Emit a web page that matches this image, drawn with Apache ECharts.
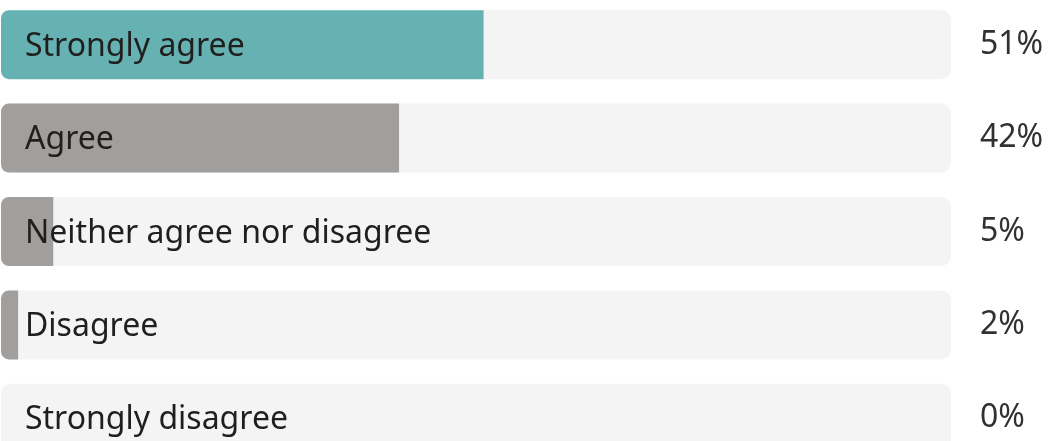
<!DOCTYPE html>
<html>
<head>
<meta charset="utf-8">
<script src="https://cdn.jsdelivr.net/npm/echarts@6/dist/echarts.min.js"></script>
<style>
  html, body { margin: 0; padding: 0; background: #fff; }
  #chart { width: 1056px; height: 441px; }
</style>
</head>
<body>
<div id="chart"></div>
<script>
// 数据
var categories = ['Strongly agree', 'Agree', 'Neither agree nor disagree', 'Disagree', 'Strongly disagree'];
var values = [50.8, 41.9, 5.5, 1.8, 0]; // 条长（从图上量取）
var percentLabels = ['51%', '42%', '5%', '2%', '0%'];
var barColors = ['#66b2b3', '#a19f9d', '#a19f9d', '#a19f9d', '#a19f9d'];

(function() {
	var chart = echarts.init(document.getElementById('chart'));
	var font = '"Noto Sans", "Open Sans", sans-serif';
	chart.setOption({
		animation: false,
		backgroundColor: '#ffffff',
		grid: {
			left: 1,
			right: 105,
			top: -2,
			height: 467,
			outerBoundsMode: 'none'
		},
		xAxis: {
			type: 'value',
			min: 0,
			max: 100,
			show: false
		},
		yAxis: [{
			type: 'category',
			data: categories,
			inverse: true,
			show: false
		}, {
			type: 'category',
			data: percentLabels,
			inverse: true,
			position: 'right',
			axisLine: { show: false },
			axisTick: { show: false },
			axisLabel: {
				align: 'left',
				margin: 29,
				color: '#323130',
				fontSize: 32,
				fontFamily: font
			}
		}],
		series: [{
			type: 'bar',
			data: values.map(function(v, i) {
				return { value: v, itemStyle: { color: barColors[i] } };
			}),
			barWidth: 69,
			showBackground: true,
			backgroundStyle: {
				color: '#f4f4f4',
				borderRadius: 10
			},
			itemStyle: {
				borderRadius: [8, 0, 0, 8]
			},
			label: {
				show: true,
				position: [24, '50%'],
				offset: [0, 2],
				verticalAlign: 'middle',
				formatter: '{b}',
				color: '#201f1e',
				fontSize: 32,
				fontFamily: font
			}
		}]
	});
})();
</script>
</body>
</html>
